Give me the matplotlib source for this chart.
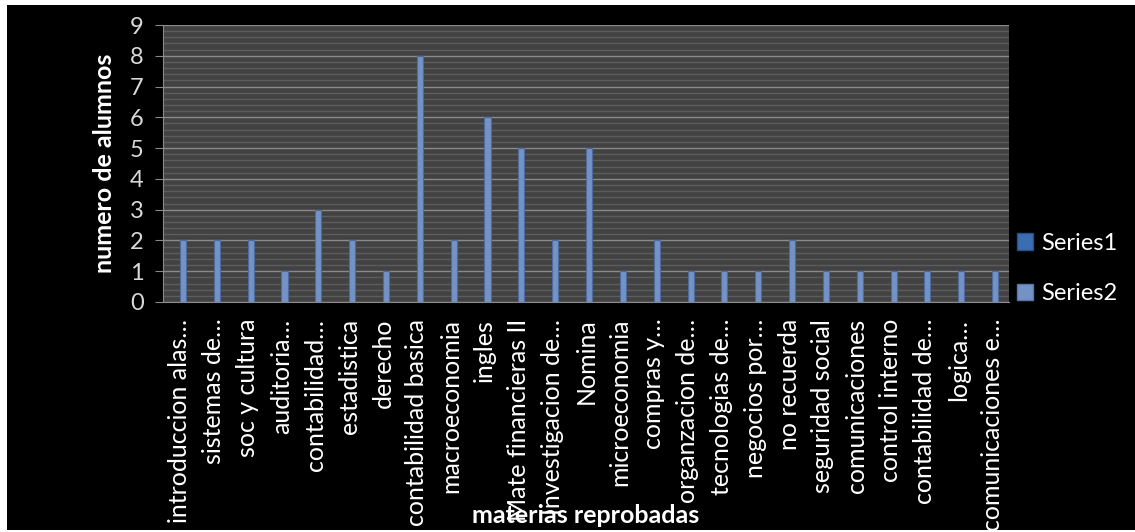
import numpy as np
import matplotlib.pyplot as plt
from matplotlib.patches import Rectangle, Patch
from matplotlib.ticker import MultipleLocator

plt.rcParams['font.family'] = ['Lato', 'DejaVu Sans']

materias = [
    'introduccion alas…', 'sistemas de…', 'soc y cultura', 'auditoria…',
    'contabilidad…', 'estadistica', 'derecho', 'contabilidad basica',
    'macroeconomia', 'ingles', 'Mate financieras II', 'Investigacion de…',
    'Nomina', 'microeconomia', 'compras y…', 'organzacion de…',
    'tecnologias de…', 'negocios por…', 'no recuerda', 'seguridad social',
    'comunicaciones', 'control interno', 'contabilidad de…', 'logica…',
    'comunicaciones e…',
]
series1 = [0, 0, 0, 0, 0, 0, 0, 0, 0, 0, 0, 0, 0,
           0, 0, 0, 0, 0, 0, 0, 0, 0, 0, 0, 0]
series2 = [2, 2, 2, 1, 3, 2, 1, 8, 2, 6, 5, 2, 5,
           1, 2, 1, 1, 1, 2, 1, 1, 1, 1, 1, 1]
y_ticks = [0, 1, 2, 3, 4, 5, 6, 7, 8, 9]

c1 = '#3b6db3'
c2 = '#7392c6'

fig = plt.figure(figsize=(11.35, 5.32), dpi=100, facecolor='white')
fig.patches.append(Rectangle((7 / 1135, 2 / 532), 1128 / 1135, 525 / 532,
                             transform=fig.transFigure, facecolor='black',
                             edgecolor='none', zorder=-10))

ax = fig.add_axes([163 / 1135, 1 - 302 / 532, 846 / 1135, 277 / 532])
ax.set_facecolor('#424242')

x = np.arange(len(materias))
w = 0.18
ax.bar(x - w / 2, series1, width=w, color=c1, linewidth=0, zorder=3)
ax.bar(x + w / 2, series2, width=w, color=c2, edgecolor='#4d6b9c',
       linewidth=0.8, zorder=3)

ax.set_xlim(-0.5, len(materias) - 0.5)
ax.set_ylim(0, 9)
ax.set_yticks(y_ticks)
ax.yaxis.set_minor_locator(MultipleLocator(0.2))
ax.grid(which='major', axis='y', color='#8a8a8a', linewidth=1.0, zorder=1)
ax.grid(which='minor', axis='y', color='#5c5c5c', linewidth=1.0, zorder=0.5)
ax.set_axisbelow(True)

ax.set_xticks(x)
ax.set_xticklabels(materias, rotation=90, ha='center', va='top',
                   fontsize=18, color='white')
ax.tick_params(axis='x', length=0, pad=12)
ax.tick_params(axis='y', which='major', length=6, color='#8a8a8a',
               labelsize=17, labelcolor='#d9d9d9', pad=8)
ax.tick_params(axis='y', which='minor', length=0)

for s in ['top', 'right']:
    ax.spines[s].set_visible(False)
for s in ['left', 'bottom']:
    ax.spines[s].set_color('#8a8a8a')

ax.set_ylabel('numero de alumnos', fontsize=18, fontweight='bold', color='white')
ax.yaxis.set_label_coords(-0.056, 0.5)
ax.set_xlabel('materias reprobadas', fontsize=18, fontweight='bold', color='white')
ax.xaxis.set_label_coords(0.5, -0.73)

handles = [Patch(facecolor=c1, edgecolor='#2a4f85'),
           Patch(facecolor=c2, edgecolor='#5a77a5')]
leg = ax.legend(handles, ['Series1', 'Series2'], loc='center left',
                bbox_to_anchor=(0.995, 0.121), frameon=False, fontsize=17,
                labelcolor='white', handlelength=0.7, handleheight=0.7,
                handletextpad=0.35, labelspacing=1.25, borderaxespad=0.1)

fig.savefig('out.png', dpi=100, facecolor=fig.get_facecolor())
